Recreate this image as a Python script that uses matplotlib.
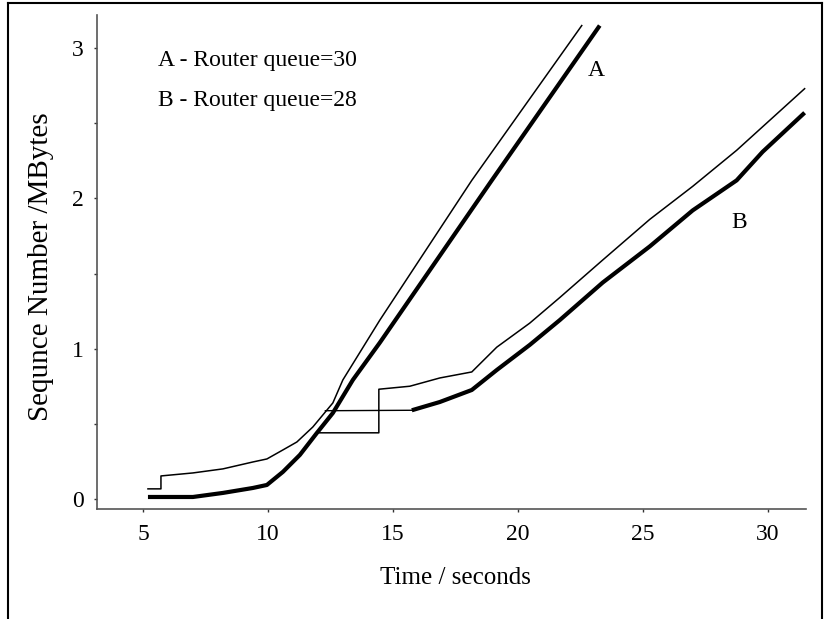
import matplotlib
matplotlib.use("Agg")
import matplotlib.pyplot as plt
from matplotlib.lines import Line2D

plt.rcParams['font.family'] = ['Liberation Serif', 'DejaVu Serif']

# Curva A (cola del router = 30): secuencia enviada (linea fina) y confirmada (linea gruesa)
a_env_t = [5.2, 5.72, 5.72, 7.0, 8.2, 9.4, 9.96, 10.6, 11.16, 11.8, 12.6, 13.0, 14.48, 18.16, 22.56]
a_env_y = [0.067, 0.067, 0.153, 0.173, 0.20, 0.246, 0.266, 0.326, 0.379, 0.479, 0.639, 0.792, 1.19, 2.12, 3.15]
a_ack_t = [5.2, 5.96, 7.0, 8.2, 9.4, 9.96, 10.6, 11.28, 11.96, 12.6, 13.4, 14.48, 18.96, 23.28]
a_ack_y = [0.013, 0.013, 0.013, 0.04, 0.073, 0.093, 0.18, 0.293, 0.439, 0.572, 0.792, 1.04, 2.12, 3.15]

# Curva B (cola del router = 28)
b_env_t = [11.96, 14.44, 14.44, 15.68, 16.88, 18.16, 19.16, 20.48, 21.68, 23.4, 25.28, 27.0, 28.76, 31.48]
b_env_y = [0.44, 0.44, 0.73, 0.75, 0.805, 0.845, 1.01, 1.17, 1.34, 1.59, 1.86, 2.08, 2.32, 2.73]
b_ack_t = [12.3, 15.76, 16.88, 18.16, 19.16, 20.48, 21.68, 23.4, 25.28, 27.0, 28.76, 29.8, 31.48]
b_ack_y = [0.587, 0.59, 0.645, 0.725, 0.858, 1.025, 1.19, 1.44, 1.68, 1.92, 2.12, 2.31, 2.57]

fig = plt.figure(figsize=(8.24, 6.19), dpi=100)
ax = fig.add_axes([0.1177, 0.1777, 0.860, 0.798])

# lineas finas
ax.plot(a_env_t, a_env_y, color='black', lw=1.1)
ax.plot(b_env_t, b_env_y, color='black', lw=1.1)
# tramo plano de B confirmada es fino, el resto grueso
ax.plot(b_ack_t[:2], b_ack_y[:2], color='black', lw=1.0)
ax.plot(b_ack_t[1:], b_ack_y[1:], color='black', lw=3.0, solid_capstyle='butt')
ax.plot(a_ack_t, a_ack_y, color='black', lw=3.0, solid_capstyle='butt')

ax.set_xlim(3.16, 31.52)
ax.set_ylim(-0.067, 3.22)

ax.set_xticks([5, 10, 15, 20, 25, 30])
ax.set_yticks([0, 1, 2, 3])
ax.set_yticks([0.5, 1.5, 2.5], minor=True)
ax.tick_params(axis='both', which='both', direction='out', length=2.5, width=1,
               color='#333333', labelsize=17, pad=7)
ax.tick_params(axis='x', pad=8)

for s in ['top', 'right']:
    ax.spines[s].set_visible(False)
for s in ['left', 'bottom']:
    ax.spines[s].set_color('#555555')
    ax.spines[s].set_linewidth(1.2)

ax.set_ylabel('Sequnce Number /MBytes', fontsize=21)
ax.yaxis.set_label_coords(-0.06, 0.49)
fig.text(455 / 824, 1 - 578 / 619, 'Time / seconds', fontsize=18, ha='center', va='center')

ax.text(5.6, 2.92, 'A - Router queue=30', fontsize=17, va='center')
ax.text(5.6, 2.65, 'B - Router queue=28', fontsize=17, va='center')
ax.text(23.16, 2.85, 'A', fontsize=17, va='center', ha='center')
ax.text(28.88, 1.84, 'B', fontsize=17, va='center', ha='center')

# marco de la captura (izquierda, arriba, derecha)
borde = [([0.0097, 0.0097], [0.0, 0.995]),
         ([0.0097, 0.997], [0.995, 0.995]),
         ([0.997, 0.997], [0.995, 0.0])]
for xs, ys in borde:
    fig.add_artist(Line2D(xs, ys, transform=fig.transFigure, color='black', lw=1.5))

fig.savefig('out.png', dpi=100)
